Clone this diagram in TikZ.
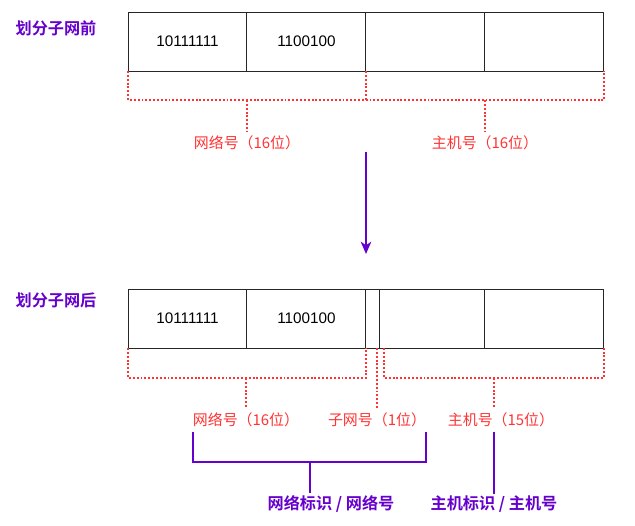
\documentclass[tikz,border=0pt]{standalone}
\usepackage{fontspec}
\setmainfont{Liberation Sans}
\newfontfamily\cjk{Noto Sans CJK SC}[BoldFont={Noto Sans CJK SC Bold}]
\usetikzlibrary{arrows.meta,positioning}
\definecolor{netRed}{HTML}{FF3333}
\definecolor{netPurple}{HTML}{6600CC}

\begin{document}
\begin{tikzpicture}[x=0.02cm,y=-0.02cm,font=\fontsize{8.7}{10}\selectfont,
  cell/.style={draw=black!85,line width=0.55pt,minimum height=1.18cm,minimum width=2.38cm,inner sep=0pt,outer sep=0pt},
  thin/.style={cell,minimum width=0.28cm},
  dotbr/.style={draw=netRed,line width=1pt,dash pattern=on 1.1pt off 1.1pt},
  lbl/.style={text=netRed,font=\cjk\fontsize{8.5}{10}\selectfont,inner xsep=0pt,inner ysep=2.5pt},
  title/.style={text=netPurple,font=\cjk\bfseries\fontsize{9.2}{10.5}\selectfont,inner sep=1pt},
  purp/.style={draw=netPurple,line width=1.1pt}]
\useasboundingbox (0,0) rectangle (635,525);

% before subnetting
\node[title] (pre) at (56,28) {划分子网前};
\node[cell,anchor=north west] (a1) at (128,12) {10111111};
\node[cell,right=0pt of a1] (a2) {1100100};
\node[cell,right=0pt of a2] (a3) {};
\node[cell,right=0pt of a3] (a4) {};

\coordinate (tbase) at (0,100);
\draw[dotbr] (a1.south west) -- (a1.south west |- tbase) -| (a4.south east);
\draw[dotbr] (a2.south east) -- (a2.south east |- tbase);
\node[lbl] (tnet) at (247,143) {网络号（16位）};
\node[lbl] (thost) at (485,143) {主机号（16位）};
\draw[dotbr] (tnet.north |- tbase) -- (tnet.north);
\draw[dotbr] (thost.north |- tbase) -- (thost.north);

% arrow
\coordinate (arrtop) at (366,152);
\coordinate (arrbot) at (366,254);
\draw[purp,-{Stealth[length=7pt,width=6pt,inset=2pt]}] (arrtop) -- (arrbot);

% after subnetting
\node[title] (post) at (56,300) {划分子网后};
\node[cell,anchor=north west] (b1) at (128,289) {10111111};
\node[cell,right=0pt of b1] (b2) {1100100};
\node[thin,right=0pt of b2] (b3) {};
\node[cell,right=0pt of b3,minimum width=2.1cm] (b4) {};
\node[cell,right=0pt of b4] (b5) {};

\coordinate (bbase) at (0,378);
\draw[dotbr] (b1.south west) -- (b1.south west |- bbase) -| (b2.south east);
\draw[dotbr] ([xshift=0.08cm]b3.south east) -- ([xshift=0.08cm]b3.south east |- bbase) -| (b5.south east);

\node[lbl] (bnet) at (246,420) {网络号（16位）};
\node[lbl] (bsub) at (377,420) {子网号（1位）};
\node[lbl] (bhost) at (501,420) {主机号（15位）};
\node[title] (netid) at (331,504) {网络标识 / 网络号};
\node[title] (hostid) at (494,504) {主机标识 / 主机号};

\draw[dotbr] (bnet.north |- bbase) -- (bnet.north);
\draw[dotbr] (bsub.north |- b3.south) -- (bsub.north);
\draw[dotbr] (hostid |- bbase) -- (hostid |- bhost.north);

\coordinate (brmid) at (310,462);
\draw[purp] (bnet.south west) -- (bnet.south west |- brmid) -| (bsub.south east);
\draw[purp] (brmid) -- (brmid |- netid.north);
\draw[purp] (hostid |- bhost.south) -- (hostid.north);
\end{tikzpicture}
\end{document}
